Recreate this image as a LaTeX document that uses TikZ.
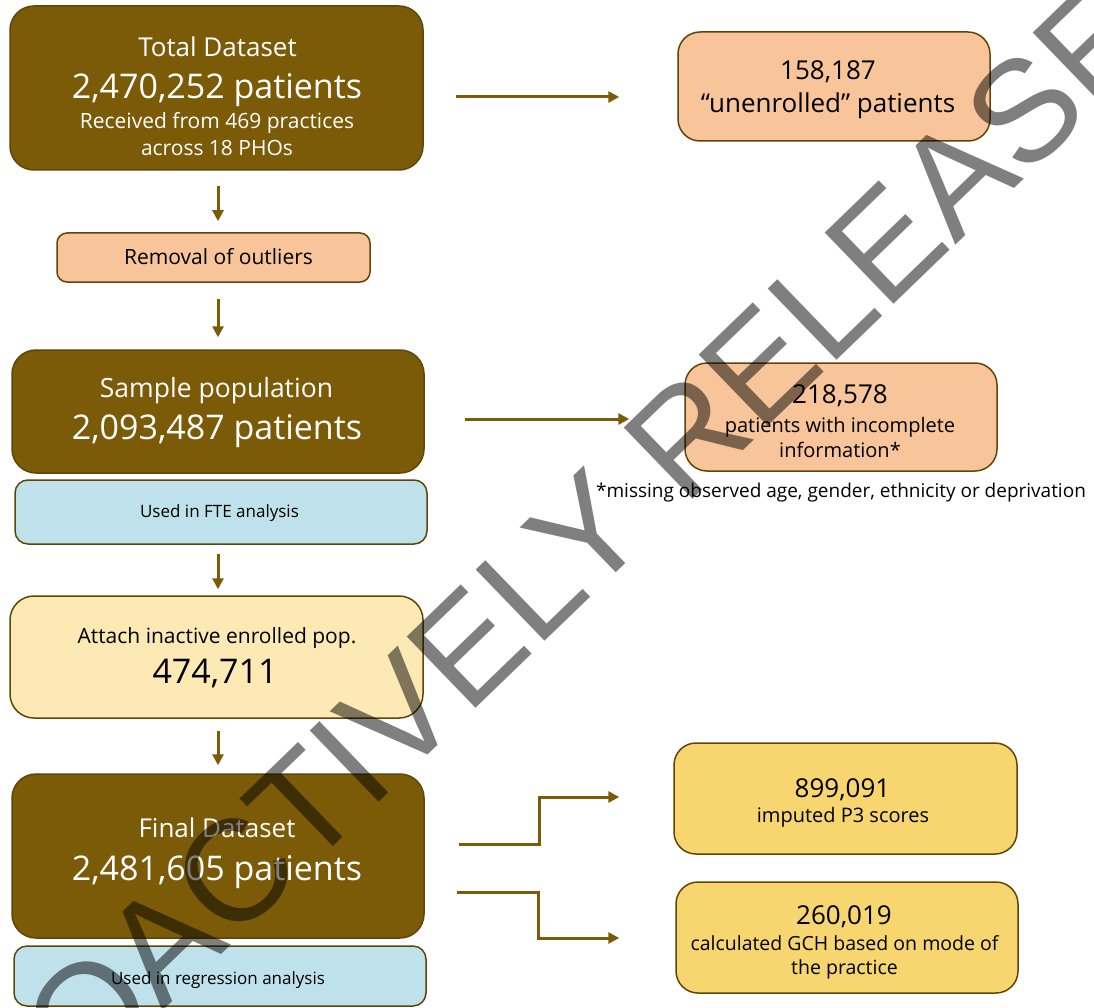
\documentclass[tikz,border=0pt]{standalone}
\usepackage{fontspec}
\setmainfont{Open Sans}
\newfontfamily\wmfont{Liberation Sans}
\usetikzlibrary{arrows.meta,calc}
\definecolor{brownfill}{RGB}{123,91,8}
\definecolor{brownline}{RGB}{96,70,6}
\definecolor{peach}{RGB}{248,197,154}
\definecolor{lblue}{RGB}{190,225,235}
\definecolor{lyellow}{RGB}{252,233,180}
\definecolor{gold}{RGB}{247,213,111}
\newcommand\fsz[1]{\fontsize{#1}{#1}\selectfont}
\begin{document}
\begin{tikzpicture}[x=1pt,y=-1pt,
  boxbase/.style={draw=brownline, line width=1.5pt, inner sep=0pt},
  darkbox/.style={boxbase, fill=brownfill, rounded corners=24pt},
  peachbox/.style={boxbase, fill=peach, rounded corners=22pt},
  goldbox/.style={boxbase, fill=gold, rounded corners=22pt},
  bluebox/.style={boxbase, fill=lblue, rounded corners=13pt},
  txt/.style={inner sep=0pt, anchor=base, text=black},
  wtxt/.style={txt, text=white},
  arr/.style={draw=brownfill, line width=3pt, -{Triangle[length=11pt,width=11pt]}},
  wmark/.style={rotate=44, anchor=base west, inner sep=0pt, text=black, text opacity=0.5,
    font=\wmfont\fsz{144}}
]
\useasboundingbox (0,0) rectangle (1094,1008);
\clip (0,0) rectangle (1094,1008);
\fill[white] (0,0) rectangle (1094,1008);

% left column
\node[darkbox, minimum width=413pt, minimum height=164pt] (total) at (216.5,88) {};
\node[wtxt, font=\fsz{26}] (total-a) at (217.5,57) {Total Dataset};
\node[wtxt, font=\fsz{34}] (total-b) at (217,99) {2,470,252 patients};
\node[wtxt, font=\fsz{21}] (total-c) at (217,129) {Received from 469 practices};
\node[wtxt, font=\fsz{21}] (total-d) at (217,156) {across 18 PHOs};

\node[boxbase, fill=peach, rounded corners=10pt, minimum width=313pt, minimum height=49pt] (removal) at (213.5,257.5) {};
\node[txt, font=\fsz{21}] (removal-a) at (218.5,265) {Removal of outliers};

\node[darkbox, minimum width=412pt, minimum height=123pt] (sample) at (218,411.5) {};
\node[wtxt, font=\fsz{26.5}] (sample-a) at (216.5,397) {Sample population};
\node[wtxt, font=\fsz{34}] (sample-b) at (217,439) {2,093,487 patients};

\node[bluebox, minimum width=412pt, minimum height=64pt] (fte) at (221,512) {};
\node[txt, font=\fsz{17}] (fte-a) at (219.5,517) {Used in FTE analysis};

\node[boxbase, fill=lyellow, rounded corners=24pt, minimum width=413pt, minimum height=122pt] (attach) at (216.5,657) {};
\node[txt, font=\fsz{21}] (attach-a) at (217,643) {Attach inactive enrolled pop.};
\node[txt, font=\fsz{34}] (attach-b) at (215,683) {474,711};

\node[darkbox, minimum width=412pt, minimum height=164pt] (final) at (218,856) {};
\node[wtxt, font=\fsz{26}] (final-a) at (217,837) {Final Dataset};
\node[wtxt, font=\fsz{34}] (final-b) at (217,880) {2,481,605 patients};

\node[bluebox, minimum width=412pt, minimum height=60pt] (regr) at (220,976) {};
\node[txt, font=\fsz{17}] (regr-a) at (218,984) {Used in regression analysis};

% right column
\node[peachbox, minimum width=312pt, minimum height=109pt] (unenr) at (834,86.5) {};
\node[txt, font=\fsz{26}] (unenr-a) at (828,80) {158,187};
\node[txt, font=\fsz{26}] (unenr-b) at (828,113) {“unenrolled” patients};

\node[peachbox, minimum width=312pt, minimum height=108pt] (incomp) at (841,417) {};
\node[txt, font=\fsz{26}] (incomp-a) at (840,403) {218,578};
\node[txt, font=\fsz{20}] (incomp-b) at (840,432) {patients with incomplete};
\node[txt, font=\fsz{20}] (incomp-c) at (840,457) {information*};
\node[txt, font=\fsz{19}] (foot) at (841,497) {*missing observed age, gender, ethnicity or deprivation};

\node[goldbox, minimum width=343pt, minimum height=111pt] (p3) at (845.5,798.5) {};
\node[txt, font=\fsz{26}] (p3-a) at (842.5,797) {899,091};
\node[txt, font=\fsz{20}] (p3-b) at (843,822) {imputed P3 scores};

\node[goldbox, minimum width=342pt, minimum height=111pt] (gch) at (847,937.5) {};
\node[txt, font=\fsz{26}] (gch-a) at (844,924) {260,019};
\node[txt, font=\fsz{19.5}] (gch-b) at (844.5,950) {calculated GCH based on mode of};
\node[txt, font=\fsz{19.5}] (gch-c) at (844.5,974) {the practice};

% connectors
\draw[arr] ($(total.south)+(1.5,15)$) -- ($(removal.north)+(4.5,-11)$);
\draw[arr] ($(removal.south)+(4.5,16)$) -- ($(sample.north)+(0,-12)$);
\draw[arr] ($(fte.south)+(-3,9)$) -- ($(attach.north)+(1.5,-6)$);
\draw[arr] ($(attach.south)+(1.5,12)$) -- ($(final.north)+(0,-8)$);

\draw[arr] ($(total.east)+(32,9)$) -- ($(unenr.west)+(-58,10.5)$);
\draw[arr] ($(sample.east)+(40,7.5)$) -- ($(incomp.west)+(-55,2)$);

\draw[arr] ($(final.east)+(34,-12)$) -- ++(81,0) |- ($(p3.west)+(-54,-1.5)$);
\draw[arr] ($(final.east)+(32,36)$) -- ++(82,0) |- ($(gch.west)+(-56,0.5)$);

% watermark
\node[wmark] (wm) at (-62,1228) {PROACTIVELY RELEASED};
\end{tikzpicture}
\end{document}
